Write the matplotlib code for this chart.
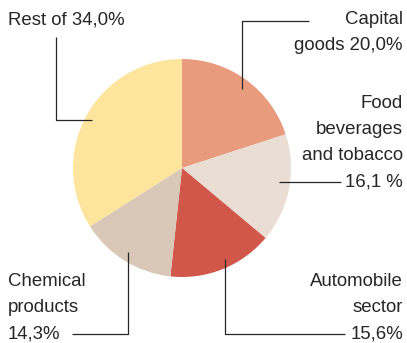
import matplotlib.pyplot as plt

# share of each sector, clockwise from 12 o'clock
sectors = ["Capital\ngoods 20,0%", "Food\nbeverages\nand tobacco\n16,1 %",
           "Automobile\nsector\n15,6%", "Chemical\nproducts\n14,3%", "Rest of 34,0%"]
shares = [20.0, 16.1, 15.6, 14.3, 34.0]
colors = ["#E89B7D", "#EADDD3", "#D05749", "#D9C8B8", "#FEE59D"]

W, H = 407, 343
fig = plt.figure(figsize=(W / 100, H / 100), dpi=100)
ax = fig.add_axes([0, 0, 1, 1])

def py(y):  # pixel row (top-down) -> data y
    return H - y

ax.pie(shares, colors=colors, startangle=90, counterclock=False,
       center=(182, py(168)), radius=109, frame=True,
       wedgeprops=dict(linewidth=0))
ax.set_xlim(0, W)
ax.set_ylim(0, H)
ax.set_aspect("equal")
ax.axis("off")

# label layout: x, first line row, alignment, leader polyline (pixel coords)
layout = [
    (403, 20, "right", [(242, 89), (242, 21), (309, 21)]),
    (403, 104, "right", [(279, 182), (341, 182)]),
    (403, 282, "right", [(225, 259), (225, 334), (345, 334)]),
    (8, 282, "left", [(128, 252), (128, 334), (72, 334)]),
    (8, 20, "left", [(92, 120), (56, 120), (56, 37)]),
]

txt_col = "#262626"
for label, (x, y0, ha, pts) in zip(sectors, layout):
    for i, line in enumerate(label.split("\n")):
        ax.text(x, py(y0 + 26 * i), line, ha=ha, va="center",
                fontsize=13.4, color=txt_col, family="Liberation Sans")
    ax.plot([p[0] for p in pts], [py(p[1]) for p in pts],
            color=txt_col, lw=0.9, solid_capstyle="butt")

fig.savefig("out.png", dpi=100)
